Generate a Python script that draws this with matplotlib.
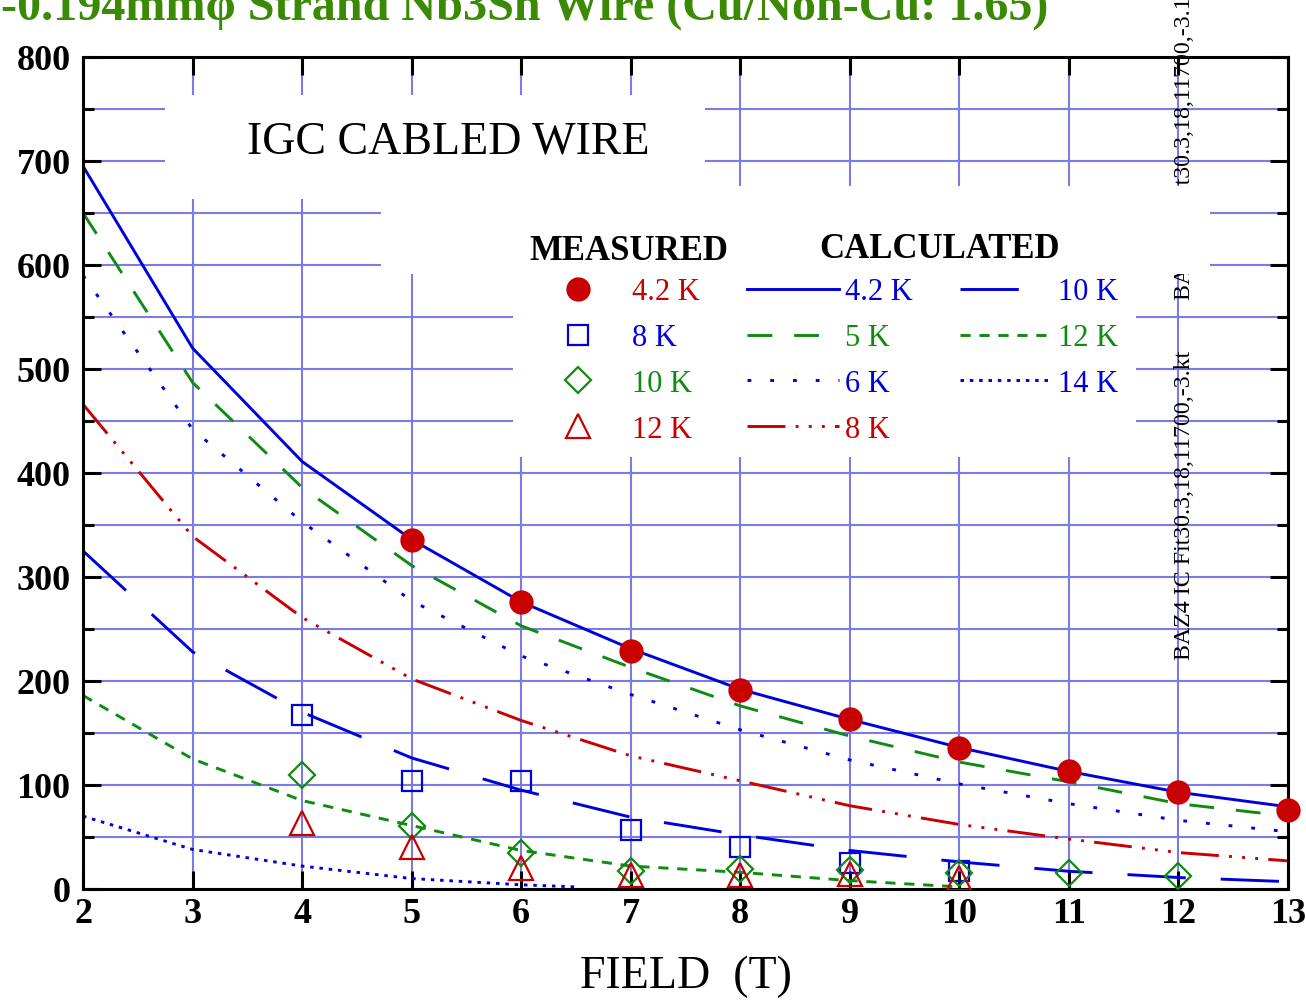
import matplotlib
matplotlib.use('Agg')
import matplotlib.pyplot as plt
from matplotlib.patches import Rectangle

plt.rcParams['font.family'] = ['Liberation Serif', 'DejaVu Serif']

# Measured critical current (A) vs field (T)
field_meas_42 = [5, 6, 7, 8, 9, 10, 11, 12, 13]
jc_meas_42 = [336, 276, 229, 191, 163, 136, 113, 93, 76]
field_meas_8 = [4, 5, 6, 7, 8, 9, 10]
jc_meas_8 = [167, 104, 104, 57, 40, 25, 17]
field_meas_10 = [4, 5, 6, 7, 8, 9, 10, 11, 12]
jc_meas_10 = [110, 61, 35, 17, 19, 18, 15, 15, 12]
field_meas_12 = [4, 5, 6, 7, 8, 9, 10]
jc_meas_12 = [63, 40, 20, 13, 13, 14, 11]

# Calculated fit curves
field_calc = [2, 3, 4, 5, 6, 7, 8, 9, 10, 11, 12, 13]
jc_calc_42 = [695, 520, 411, 336, 276, 231, 192, 163, 136, 113, 93, 79]
jc_calc_5 = [650, 487, 386, 311, 253, 213, 176, 147, 122, 103, 82, 70]
jc_calc_6 = [590, 442, 353, 277, 224, 187, 153, 124, 101, 82, 66, 55]
jc_calc_8 = [466, 339, 261, 202, 162, 128, 104, 80, 62, 48, 35, 27]
jc_calc_10 = [325, 228, 170, 126, 95, 69, 52, 37, 26, 17, 11, 7]
field_calc_12 = [2, 3, 4, 5, 6, 7, 8, 9, 10]
jc_calc_12 = [186, 125, 85, 61, 37, 22, 16, 8, 2]
field_calc_14 = [2, 3, 4, 5, 6, 6.5]
jc_calc_14 = [70, 38, 22, 10, 4, 2]

red = '#c80000'
blue = '#0000dc'
green = '#108a10'
grid_color = '#7b7be8'

fig = plt.figure(figsize=(13.06, 10.03), dpi=100)
ax = fig.add_axes([0.0636, 0.1127, 0.9226, 0.8295])
ax.set_xlim(2, 13)
ax.set_ylim(0, 800)

ax.set_xticks(range(2, 14))
ax.set_yticks(range(0, 801, 100))
ax.set_yticks(range(50, 800, 100), minor=True)
ax.set_axisbelow(True)
ax.grid(which='both', color=grid_color, linewidth=1.5)
ax.tick_params(which='both', direction='in', top=True, right=True,
               width=2.2, color='black', labelsize=26)
ax.tick_params(which='major', length=13)
ax.tick_params(which='minor', length=8)
ax.tick_params(axis='y', pad=9)
ax.tick_params(axis='x', pad=6)
for lbl in ax.get_xticklabels() + ax.get_yticklabels():
    lbl.set_fontweight('bold')
for sp in ax.spines.values():
    sp.set_linewidth(2.2)

# white boxes behind the caption and the legend block
for (x0, y0, w, h) in [(0.068, 0.829, 0.448, 0.125),
                       (0.247, 0.739, 0.688, 0.106),
                       (0.357, 0.519, 0.517, 0.222)]:
    ax.add_patch(Rectangle((x0, y0), w, h, transform=ax.transAxes,
                           facecolor='white', edgecolor='none', zorder=1))

# calculated curves
lw = 2.1
c42, = ax.plot(field_calc, jc_calc_42, color=blue, lw=lw, label='4.2 K')
c5, = ax.plot(field_calc, jc_calc_5, color=green, lw=lw, dashes=(8.5, 7.5),
              dash_capstyle='butt', label='5 K')
c6, = ax.plot(field_calc, jc_calc_6, color=blue, lw=lw, dashes=(1.3, 6.5),
              label='6 K')
c8, = ax.plot(field_calc, jc_calc_8, color=red, lw=lw,
              dashes=(13, 3.5, 1, 3.5, 1, 3.5, 1, 3.5), label='8 K')
c10, = ax.plot(field_calc, jc_calc_10, color=blue, lw=lw, dashes=(20, 12),
               label='10 K')
c12, = ax.plot(field_calc_12, jc_calc_12, color=green, lw=lw,
               dashes=(3.5, 3), label='12 K')
c14, = ax.plot(field_calc_14, jc_calc_14, color=blue, lw=lw,
               dashes=(1.2, 2), label='14 K')

# measured points
m42, = ax.plot(field_meas_42, jc_meas_42, 'o', ms=16.5, color=red,
               mec=red, clip_on=False, zorder=4, label='4.2 K')
m8, = ax.plot(field_meas_8, jc_meas_8, 's', ms=15, mfc='none', mec=blue,
              mew=1.6, zorder=4, label='8 K')
m10, = ax.plot(field_meas_10, jc_meas_10, 'D', ms=13, mfc='none', mec=green,
               mew=1.6, zorder=4, label='10 K')
m12, = ax.plot(field_meas_12, jc_meas_12, '^', ms=17, mfc='none', mec=red,
               mew=1.6, zorder=4, label='12 K')

leg_meas = ax.legend(handles=[m42, m8, m10, m12], loc='upper left',
                     bbox_to_anchor=(0.392, 0.735), frameon=False,
                     fontsize=22, numpoints=1, handlelength=1.5,
                     handletextpad=1.0, labelspacing=0.55, borderpad=0,
                     borderaxespad=0, labelcolor='markeredgecolor')
ax.add_artist(leg_meas)
ax.legend(handles=[c42, c5, c6, c8, c10, c12, c14], loc='upper left',
          bbox_to_anchor=(0.551, 0.735), frameon=False, ncol=2,
          fontsize=22, handlelength=3.0, handletextpad=0.2,
          labelspacing=0.55, columnspacing=1.57, borderpad=0,
          borderaxespad=0, labelcolor='linecolor')

ax.text(0.453, 0.767, 'MEASURED', transform=ax.transAxes, ha='center',
        va='center', fontsize=25, fontweight='bold')
ax.text(0.711, 0.770, 'CALCULATED', transform=ax.transAxes, ha='center',
        va='center', fontsize=25, fontweight='bold')
ax.text(0.303, 0.899, 'IGC CABLED WIRE', transform=ax.transAxes,
        ha='center', va='center', fontsize=33)

# fit file tags along the right edge
ax.text(0.9145, 0.709, 'BAZ4 IC Fit30.3,18,11700,-3.1kt', transform=ax.transAxes,
        rotation=90, ha='center', va='bottom', fontsize=17.2, zorder=0.8,
        clip_on=False)
ax.text(0.9145, 0.2764, 'BAZ4 IC Fit30.3,18,11700,-3.kt', transform=ax.transAxes,
        rotation=90, ha='center', va='bottom', fontsize=17.2, zorder=3)

ax.set_xlabel('FIELD  (T)', fontsize=33)
ax.xaxis.set_label_coords(0.5, -0.1046)
ax.xaxis.label.set_va('center')

fig.text(1048 / 1306, 1 - 20 / 1003,
         '-0.194mm\u03c6 Strand Nb3Sn Wire (Cu/Non-Cu: 1.65)',
         ha='right', va='baseline', fontsize=34.7, fontweight='bold',
         color='#3a8a06')

fig.savefig('out.png', dpi=100)
